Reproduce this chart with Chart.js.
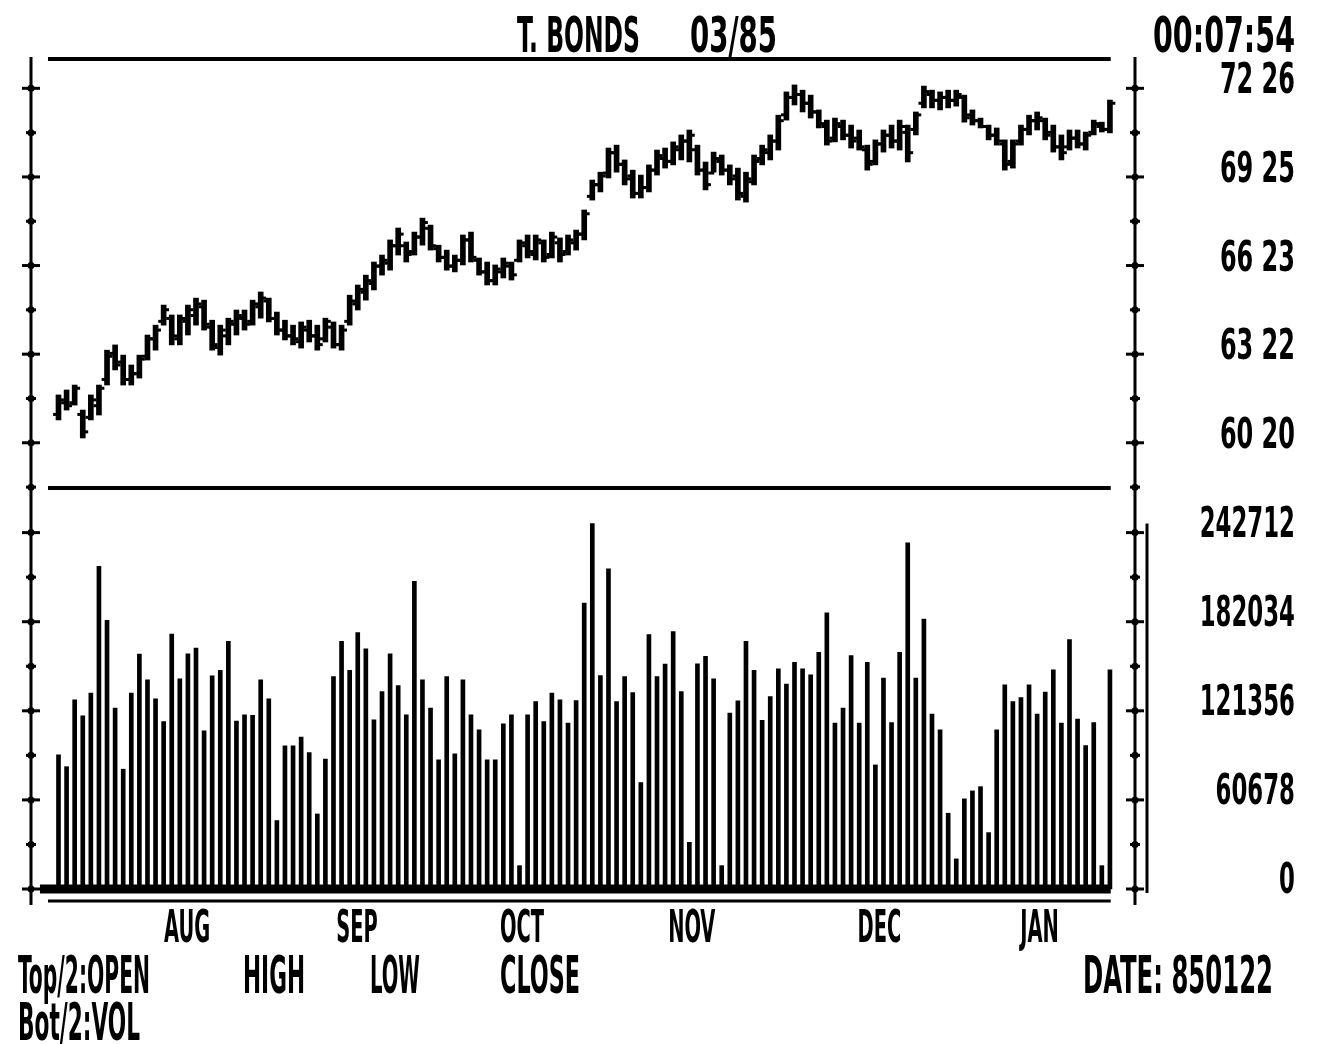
<!DOCTYPE html>
<html>
<head>
<meta charset="utf-8">
<title>T. BONDS 03/85</title>
<script src="https://cdn.jsdelivr.net/npm/chart.js@4.4.0/dist/chart.umd.min.js"></script>
<style>
  html, body { margin: 0; padding: 0; background: #fff; }
  canvas { display: block; }
</style>
</head>
<body>
<canvas id="bondChart" width="1324" height="1044"></canvas>
<script>
// daily T-bond futures (03/85 contract), one entry per trading day, oldest first
const opens = [
  61.6, 62.0, 62.0, 61.6, 61.5, 61.9, 62.8, 63.7, 63.4, 62.8,
  63.0, 63.6, 64.2, 64.8, 64.9, 64.2, 64.8, 65.0, 65.3, 64.6,
  63.9, 64.3, 64.7, 64.9, 64.8, 65.3, 65.5, 64.9, 64.5, 64.3,
  64.1, 64.5, 64.3, 64.2, 64.6, 64.0, 64.8, 65.4, 65.8, 66.1,
  66.7, 66.8, 67.4, 67.4, 67.2, 67.7, 68.0, 67.3, 67.0, 66.7,
  66.9, 67.6, 66.9, 66.5, 66.2, 66.5, 66.7, 66.9, 67.4, 67.1,
  67.5, 67.1, 67.5, 67.2, 67.5, 67.8, 69.1, 69.5, 69.9, 70.6,
  70.2, 69.8, 69.2, 69.4, 70.0, 70.4, 70.3, 70.7, 71.0, 70.7,
  70.0, 69.9, 70.3, 70.0, 69.8, 69.1, 69.6, 70.4, 70.6, 71.0,
  71.9, 72.5, 72.6, 72.3, 72.0, 71.5, 71.1, 71.5, 71.2, 71.1,
  70.7, 70.3, 70.9, 71.2, 71.0, 71.3, 71.4, 72.3, 72.6, 72.4,
  72.5, 72.4, 72.5, 71.9, 71.7, 71.5, 71.2, 70.9, 70.3, 71.0,
  71.4, 71.7, 71.7, 71.3, 70.8, 70.8, 71.1, 70.9, 71.3, 71.5,
  71.4
];
const highs = [
  62.27, 62.44, 62.61, 61.75, 62.27, 62.61, 63.81, 63.99, 63.64, 63.30,
  63.64, 64.33, 64.67, 65.36, 65.02, 65.02, 65.36, 65.60, 65.53, 64.84,
  64.67, 64.91, 65.19, 65.19, 65.53, 65.81, 65.60, 65.12, 64.84, 64.67,
  64.78, 64.84, 64.67, 64.91, 64.78, 64.67, 65.70, 66.05, 66.39, 66.84,
  67.08, 67.60, 68.01, 67.53, 67.87, 68.35, 68.11, 67.42, 67.25, 67.08,
  67.77, 67.87, 66.98, 66.84, 66.74, 66.98, 66.84, 67.60, 67.77, 67.77,
  67.60, 67.87, 67.67, 67.77, 67.94, 68.63, 69.66, 69.93, 70.76, 70.86,
  70.35, 70.00, 69.83, 70.18, 70.69, 70.76, 70.97, 71.21, 71.38, 70.86,
  70.28, 70.62, 70.52, 70.18, 70.07, 69.93, 70.52, 70.86, 71.21, 71.89,
  72.69, 72.93, 72.75, 72.58, 72.07, 71.72, 71.79, 71.72, 71.55, 71.38,
  70.86, 71.04, 71.38, 71.55, 71.72, 71.55, 72.00, 72.89, 72.75, 72.69,
  72.75, 72.75, 72.58, 72.07, 71.79, 71.55, 71.45, 71.04, 71.04, 71.55,
  71.89, 72.00, 71.79, 71.55, 71.21, 71.38, 71.38, 71.31, 71.72, 71.65,
  72.41
];
const lows = [
  61.41, 61.75, 61.92, 60.79, 61.41, 61.58, 62.61, 63.13, 62.61, 62.61,
  62.85, 63.47, 63.81, 64.67, 63.99, 63.99, 64.33, 64.67, 64.50, 63.81,
  63.64, 63.99, 64.33, 64.50, 64.67, 64.91, 64.78, 64.33, 64.16, 63.99,
  63.88, 64.09, 63.81, 64.09, 63.88, 63.81, 64.67, 65.19, 65.53, 65.88,
  66.39, 66.56, 67.08, 66.84, 67.08, 67.42, 67.25, 66.84, 66.56, 66.50,
  66.74, 66.84, 66.39, 66.05, 66.05, 66.29, 66.22, 66.84, 66.98, 66.91,
  66.84, 66.98, 66.84, 67.08, 67.25, 67.60, 68.97, 69.25, 69.73, 69.93,
  69.49, 69.04, 69.04, 69.25, 69.83, 70.07, 70.18, 70.35, 70.28, 69.83,
  69.32, 69.93, 69.83, 69.49, 68.97, 68.90, 69.49, 70.18, 70.35, 70.69,
  71.72, 72.24, 72.00, 71.79, 71.45, 70.86, 70.97, 71.04, 70.76, 70.69,
  70.00, 70.18, 70.62, 70.76, 70.69, 70.28, 71.21, 72.14, 72.14, 72.07,
  72.14, 72.20, 71.65, 71.55, 71.45, 71.04, 70.86, 70.00, 70.07, 70.86,
  71.21, 71.38, 71.04, 70.62, 70.35, 70.69, 70.76, 70.69, 71.21, 71.31,
  71.28
];
const closes = [
  62.1, 61.9, 62.5, 61.0, 62.1, 62.5, 63.6, 63.3, 62.8, 63.0,
  63.5, 64.2, 64.5, 65.2, 64.3, 64.9, 65.2, 65.4, 64.7, 64.0,
  64.5, 64.8, 65.0, 64.7, 65.4, 65.6, 64.9, 64.5, 64.3, 64.2,
  64.6, 64.3, 64.0, 64.8, 64.0, 64.5, 65.5, 65.9, 66.2, 66.7,
  66.9, 67.4, 67.8, 67.1, 67.7, 68.2, 67.4, 67.0, 66.7, 66.9,
  67.6, 67.0, 66.5, 66.2, 66.6, 66.8, 66.4, 67.5, 67.2, 67.6,
  67.0, 67.7, 67.1, 67.6, 67.8, 68.5, 69.5, 69.8, 70.6, 70.2,
  69.7, 69.2, 69.4, 70.0, 70.5, 70.3, 70.8, 71.0, 71.2, 70.0,
  69.5, 70.4, 70.0, 69.7, 69.2, 69.7, 70.3, 70.7, 71.0, 71.7,
  72.5, 72.6, 72.3, 72.0, 71.6, 71.0, 71.6, 71.2, 71.0, 70.8,
  70.2, 70.9, 71.2, 71.0, 71.5, 70.6, 71.9, 72.7, 72.4, 72.5,
  72.4, 72.6, 71.8, 71.7, 71.5, 71.2, 71.0, 70.2, 70.9, 71.4,
  71.7, 71.8, 71.2, 70.8, 70.6, 71.1, 70.9, 71.2, 71.6, 71.4,
  72.3
];
const volumes = [
  91400, 83300, 128900, 118000, 133400, 219800, 183000, 123200, 81600, 133400,
  160000, 142500, 129500, 114000, 173600, 143200, 160200, 164100, 107700, 145200,
  148900, 168600, 114300, 118600, 118200, 142500, 129500, 46600, 97500, 97500,
  103400, 92900, 51100, 88400, 144700, 168600, 148900, 174700, 163600, 115200,
  134500, 160200, 138600, 118600, 209500, 142500, 123200, 88000, 144700, 92000,
  142500, 118600, 108400, 88000, 88000, 112500, 118600, 15900, 118600, 127700,
  114000, 133400, 128900, 113000, 128300, 194800, 248900, 145400, 218000, 127700,
  144700, 133800, 72500, 173200, 144700, 153200, 175400, 134500, 31800, 153400,
  158400, 143200, 15900, 119800, 128200, 168600, 148900, 114800, 131100, 150000,
  139600, 154300, 150000, 145900, 161100, 188000, 113000, 123200, 158900, 113000,
  154300, 84500, 143700, 113300, 161100, 235700, 143700, 183900, 119100, 108400,
  51600, 20500, 61400, 66800, 69700, 38400, 108400, 139100, 127700, 130400,
  139100, 119100, 134100, 149300, 113000, 169800, 115700, 97700, 113300, 15900,
  149300
];

// axis ticks (prices are shown in 32nds, the way the screen prints them)
const priceTicks = [59.10, 60.625, 62.148, 63.672, 65.195, 66.719, 68.242, 69.766, 71.289, 72.813];
const priceTickLabels = ['', '60 20', '', '63 22', '', '66 23', '', '69 25', '', '72 26'];
const volTicks = [0, 30339, 60678, 91017, 121356, 151695, 182034, 212373, 242712];
const volTickLabels = ['0', '', '60678', '', '121356', '', '182034', '', '242712'];
const monthTicks = [15.9, 36.9, 57.3, 78.3, 101.5, 121.3];
const monthLabels = ['AUG', 'SEP', 'OCT', 'NOV', 'DEC', 'JAN'];

const FONT = "'Liberation Sans Narrow', 'DejaVu Sans Condensed', 'DejaVu Sans', sans-serif";
const panelFrom = -1.3;   // where the panel rules start / end, in day units
const panelTo = 130.1;

// the screen font is very tall and narrow: squeeze the axis labels sideways
const labelSqueeze = { x: 0.48, yPrice: 0.62, yVol: 0.59 };
const labelRight = 160;   // right edge of the value labels, from the axis line

const screenTexts = [
  { text: 'T. BONDS', x: 517, y: 52, w: 123, size: 50 },
  { text: '03/85', x: 690, y: 52, w: 87, size: 50 },
  { text: '00:07:54', x: 1153, y: 52, w: 142, size: 50 },
  { text: 'Top/2:OPEN', x: 18, y: 993, w: 132, size: 52 },
  { text: 'HIGH', x: 243, y: 993, w: 62, size: 52 },
  { text: 'LOW', x: 370, y: 993, w: 50, size: 52 },
  { text: 'CLOSE', x: 500, y: 993, w: 80, size: 52 },
  { text: 'DATE: 850122', x: 1083, y: 993, w: 190, size: 52 },
  { text: 'Bot/2:VOL', x: 18, y: 1040, w: 122, size: 52 }
];

const hiLo = highs.map((h, i) => ({ x: i, y: [lows[i], h] }));
const openTicks = opens.map((o, i) => ({ x: i - 0.3, y: o }));
const closeTicks = closes.map((c, i) => ({ x: i + 0.3, y: c }));
const volBars = volumes.map((v, i) => ({ x: i, y: v }));

const squeezeLabels = {
    id: 'squeezeLabels',
    beforeDraw(chart) {
        Object.keys(labelSqueeze).forEach(id => {
            const scale = chart.scales[id];
            if (!scale || scale.$squeezed) return;
            scale.$squeezed = true;
            const draw = scale.drawLabels;
            scale.drawLabels = function (area) {
                const c = this.ctx;
                const items = this.getLabelItems(area);
                let dx = 0;
                if (id !== 'x' && items.length) {
                    dx = chart.chartArea.right + labelRight - items[0].options.translation[0];
                }
                const sx = labelSqueeze[id];
                c.rotate = function (a) {
                    CanvasRenderingContext2D.prototype.rotate.call(c, a);
                    c.translate(dx, 0);
                    c.scale(sx, 1);
                };
                draw.call(this, area);
                delete c.rotate;
            };
        });
    }
};

const screenFrame = {
    id: 'screenFrame',
    afterDatasetsDraw(chart) {
        const ctx = chart.ctx;
        const area = chart.chartArea;
        const xs = chart.scales.x, yp = chart.scales.yPrice, yv = chart.scales.yVol;
        const x0 = xs.getPixelForValue(panelFrom), x1 = xs.getPixelForValue(panelTo);

        ctx.save();
        ctx.strokeStyle = '#000';
        ctx.fillStyle = '#000';

        function line(ax, ay, bx, by, w) {
            ctx.lineWidth = w;
            ctx.beginPath();
            ctx.moveTo(ax, ay);
            ctx.lineTo(bx, by);
            ctx.stroke();
        }

        // panel rules
        line(x0, area.top + 2, x1, area.top + 2, 4);
        line(x0, yp.bottom, x1, yp.bottom, 4);
        const zero = yv.getPixelForValue(0);
        line(x0 - 8, zero, x1, zero, 9);
        line(x0, area.bottom - 2, x1, area.bottom - 2, 3);

        // left and right axes with cross ticks
        [area.left, area.right].forEach(ax => {
            line(ax, area.top, ax, area.bottom + 2, 3);
            [yp, yv].forEach(s => {
                s.ticks.forEach(t => {
                    const y = s.getPixelForValue(t.value);
                    const big = t.label !== '';
                    line(ax - (big ? 9 : 5), y, ax + (big ? 9 : 5), y, 3);
                    ctx.beginPath();
                    ctx.arc(ax, y, 3.5, 0, Math.PI * 2);
                    ctx.fill();
                });
            });
        });

        // bar marking the largest volume of the period
        line(area.right + 12, yv.getPixelForValue(Math.max(...volumes)), area.right + 12, zero + 4, 3);
        ctx.restore();
    },
    afterDraw(chart) {
        const ctx = chart.ctx;
        ctx.save();
        ctx.fillStyle = '#000';
        ctx.textAlign = 'left';
        ctx.textBaseline = 'alphabetic';
        screenTexts.forEach(t => {
            ctx.font = 'bold ' + t.size + 'px ' + FONT;
            ctx.fillText(t.text, t.x, t.y, t.w);
        });
        ctx.restore();
    }
};

function noEdgePadding(scale) {
    scale.paddingTop = 0;
    scale.paddingBottom = 0;
    scale.paddingLeft = 0;
    scale.paddingRight = 0;
}

const ctx = document.getElementById('bondChart');

new Chart(ctx, {
    type: 'bar',
    data: {
        datasets: [
            {
                label: 'High/Low',
                data: hiLo,
                yAxisID: 'yPrice',
                backgroundColor: '#000',
                barThickness: 5,
                grouped: false
            },
            {
                type: 'scatter',
                label: 'Open',
                data: openTicks,
                yAxisID: 'yPrice',
                pointStyle: 'line',
                pointRadius: 3,
                pointBorderWidth: 3,
                borderColor: '#000',
                backgroundColor: '#000'
            },
            {
                type: 'scatter',
                label: 'Close',
                data: closeTicks,
                yAxisID: 'yPrice',
                pointStyle: 'line',
                pointRadius: 3,
                pointBorderWidth: 3,
                borderColor: '#000',
                backgroundColor: '#000'
            },
            {
                label: 'Volume',
                data: volBars,
                yAxisID: 'yVol',
                backgroundColor: '#000',
                barThickness: 4,
                grouped: false
            }
        ]
    },
    options: {
        responsive: false,
        devicePixelRatio: 1,
        animation: false,
        layout: {
            padding: { top: 57, left: 31, right: 19, bottom: 81 }
        },
        plugins: {
            legend: { display: false },
            tooltip: { enabled: false }
        },
        scales: {
            x: {
                type: 'linear',
                min: -3.4,
                max: 133.1,
                offset: false,
                grid: { display: false, drawTicks: false },
                border: { display: false },
                afterBuildTicks: function (scale) {
                    scale.ticks = monthTicks.map(v => ({ value: v }));
                },
                afterFit: function (scale) {
                    scale.height = 60;
                    noEdgePadding(scale);
                },
                ticks: {
                    autoSkip: false,
                    maxRotation: 0,
                    padding: 0,
                    color: '#000',
                    font: { family: FONT, size: 45, weight: 'bold' },
                    callback: function (value, index) {
                        return monthLabels[index];
                    }
                }
            },
            yPrice: {
                axis: 'y',
                type: 'linear',
                position: 'right',
                stack: 'panels',
                stackWeight: 431,
                min: 59.07,
                max: 73.89,
                beginAtZero: false,
                grid: { display: false, drawTicks: false },
                border: { display: false },
                afterBuildTicks: function (scale) {
                    scale.ticks = priceTicks.map(v => ({ value: v }));
                },
                afterFit: function (scale) {
                    scale.width = 170;
                    noEdgePadding(scale);
                },
                ticks: {
                    autoSkip: false,
                    crossAlign: 'far',
                    padding: 10,
                    labelOffset: -6,
                    color: '#000',
                    font: { family: FONT, size: 43, weight: 'bold' },
                    callback: function (value, index) {
                        return priceTickLabels[index];
                    }
                }
            },
            yVol: {
                axis: 'y',
                type: 'linear',
                position: 'right',
                stack: 'panels',
                stackWeight: 415,
                min: -9534,
                max: 273100,
                beginAtZero: false,
                grid: { display: false, drawTicks: false },
                border: { display: false },
                afterBuildTicks: function (scale) {
                    scale.ticks = volTicks.map(v => ({ value: v }));
                },
                afterFit: function (scale) {
                    scale.width = 170;
                    noEdgePadding(scale);
                },
                ticks: {
                    autoSkip: false,
                    crossAlign: 'far',
                    padding: 10,
                    labelOffset: -7,
                    color: '#000',
                    font: { family: FONT, size: 43, weight: 'bold' },
                    callback: function (value, index) {
                        return volTickLabels[index];
                    }
                }
            }
        }
    },
    plugins: [squeezeLabels, screenFrame]
});
</script>
</body>
</html>
